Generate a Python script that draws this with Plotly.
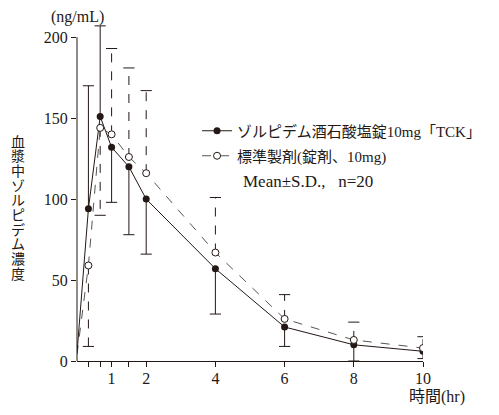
import plotly.graph_objects as go

# time points (hr)
hours = [0, 0.33, 0.67, 1, 1.5, 2, 4, 6, 8, 10]
# ゾルピデム酒石酸塩錠10mg「TCK」
tck_mean = [5, 94, 151, 132, 120, 100, 57, 21, 10, 6]
tck_sd = [0, 76, 56, 34, 42, 34, 28, 12, 10, 4.5]
# 標準製剤(錠剤、10mg)
std_mean = [4, 59, 144, 140, 126, 116, 67, 26, 13, 8]
std_sd = [0, 50, 54, 53, 55, 51, 34, 15, 11, 7]

tick_vals = [0.33, 0.67, 1, 1.5, 2, 4, 6, 8, 10]
tick_text = ['', '', '1', '', '2', '4', '6', '8', '10']
y_ticks = [0, 50, 100, 150, 200]

ink = '#231815'
serif = 'Liberation Serif, Noto Sans CJK JP'


def err_segments(mean, sd, other):
    # one-sided bars: the higher series shows +SD, the lower one -SD
    xs, ys, cx, cy = [], [], [], []
    for t, m, s, o in zip(hours, mean, sd, other):
        if s == 0:
            continue
        end = m + s if m > o else m - s
        xs += [t, t, None]
        ys += [m, end, None]
        cx.append(t)
        cy.append(end)
    return xs, ys, cx, cy


fig = go.Figure()

for mean, sd, other, dash in [(tck_mean, tck_sd, std_mean, 'solid'),
                              (std_mean, std_sd, tck_mean, 'dash')]:
    xs, ys, cx, cy = err_segments(mean, sd, other)
    fig.add_trace(go.Scatter(x=xs, y=ys, mode='lines', showlegend=False,
                             line=dict(color=ink, width=1, dash=dash)))
    fig.add_trace(go.Scatter(x=cx, y=cy, mode='markers', showlegend=False,
                             marker=dict(symbol='line-ew-open', size=8, color=ink,
                                         line=dict(color=ink, width=1))))

# segments from time 0 (no marker)
fig.add_trace(go.Scatter(x=hours[:2], y=std_mean[:2], mode='lines', showlegend=False,
                         line=dict(color='#555', width=1, dash='dash')))
fig.add_trace(go.Scatter(x=hours[:2], y=tck_mean[:2], mode='lines', showlegend=False,
                         line=dict(color=ink, width=1)))

fig.add_trace(go.Scatter(x=hours[1:], y=tck_mean[1:], mode='lines+markers',
                         name='ゾルピデム酒石酸塩錠10mg「TCK」', legend='legend',
                         line=dict(color=ink, width=1),
                         marker=dict(symbol='circle', size=7, color=ink)))
fig.add_trace(go.Scatter(x=hours[1:], y=std_mean[1:], mode='lines+markers',
                         name='標準製剤(錠剤、10mg)', legend='legend2',
                         line=dict(color='#555', width=1, dash='dash'),
                         marker=dict(symbol='circle', size=7, color='white',
                                     line=dict(color=ink, width=1))))

leg = dict(xanchor='left', yanchor='middle', bgcolor='rgba(0,0,0,0)',
           itemwidth=30, font=dict(size=15, family=serif, color=ink))
plot_h = 340


def py(px):
    # pixel row on screen -> paper y (plot bottom sits at row 361)
    return (361 - px) / plot_h


title = '血漿中ゾルピデム濃度'
annotations = [
    dict(text='(ng/mL)', x=0, y=200, xref='x', yref='y', yshift=20,
         showarrow=False, font=dict(size=16)),
    dict(text='時間(hr)', x=10, y=0, xref='x', yref='y', yshift=-36, xshift=14,
         showarrow=False, font=dict(size=16)),
    dict(text='Mean±S.D.,   n=20', x=(241 - 77) / 346, y=py(181),
         xref='paper', yref='paper', xanchor='left', yanchor='middle',
         showarrow=False, font=dict(size=17, family=serif)),
]
for i, ch in enumerate(title):
    annotations.append(dict(text=ch, x=(18 - 77) / 346, y=py(142 + i * 14.7),
                            xref='paper', yref='paper', showarrow=False,
                            xanchor='center', yanchor='middle', font=dict(size=14)))

fig.update_layout(
    width=499, height=415,
    margin=dict(l=69, r=84, t=13, b=62),
    paper_bgcolor='white', plot_bgcolor='white',
    font=dict(family=serif, size=15, color=ink),
    legend=dict(leg, x=0.347, y=py(131)),
    legend2=dict(leg, x=0.347, y=py(156)),
    xaxis=dict(range=[0, 10], showgrid=False, zeroline=False,
               showline=True, linecolor=ink, linewidth=1,
               tickmode='array', tickvals=tick_vals, ticktext=tick_text,
               ticks='outside', ticklen=5, tickcolor=ink, ticklabelstandoff=-2,
               tickfont=dict(size=16)),
    yaxis=dict(range=[0, 210], showgrid=False, zeroline=False, showline=False,
               tickvals=y_ticks, ticks='outside', ticklen=5, tickcolor=ink,
               tickfont=dict(size=16)),
    shapes=[dict(type='line', xref='paper', yref='y', x0=0, x1=0,
                 y0=y_ticks[0], y1=y_ticks[-1], line=dict(color=ink, width=1))],
    annotations=annotations,
)

fig.write_html('out.html')
